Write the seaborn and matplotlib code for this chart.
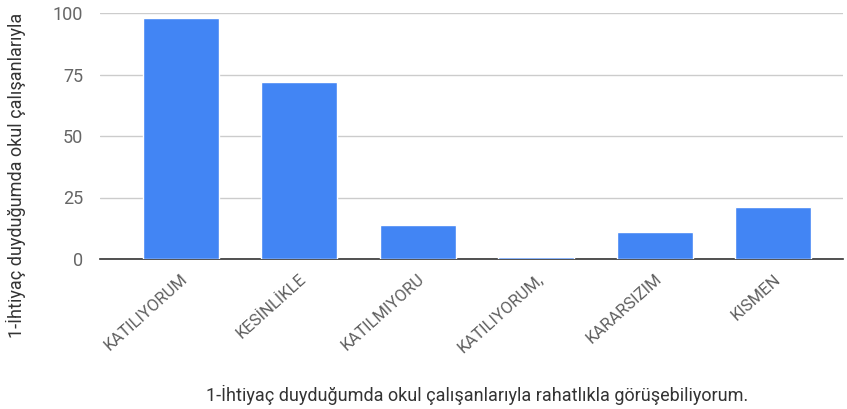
"""Bar chart of answers to survey item 1."""

import matplotlib

matplotlib.use("Agg")

import matplotlib.pyplot as plt
import pandas as pd
import seaborn as sns

CATEGORIES = ["KATILIYORUM", "KESİNLİKLE", "KATILMIYORU", "KATILIYORUM,", "KARARSIZIM", "KISMEN"]
COUNTS = [98, 72, 14, 1, 11, 21]
Y_TICKS = [0, 25, 50, 75, 100]

X_LABEL = "1-İhtiyaç duyduğumda okul çalışanlarıyla rahatlıkla görüşebiliyorum."
Y_LABEL = "1-İhtiyaç duyduğumda okul çalışanlarıyla"

BAR_COLOR = "#4285f4"
TEXT_COLOR = "#5f5f5f"


def main() -> None:
    sns.set_style("white")
    plt.rcParams["font.family"] = ["Roboto", "DejaVu Sans"]

    df = pd.DataFrame({"answer": CATEGORIES, "count": COUNTS})

    fig = plt.figure(figsize=(8.47, 4.09), dpi=100)
    ax = fig.add_axes([100 / 847, 1 - 259 / 409, 743 / 847, 246 / 409])

    sns.barplot(data=df, x="answer", y="count", color=BAR_COLOR, width=0.64,
                saturation=1, ax=ax, zorder=3)

    ax.set_ylim(0, 100)
    ax.set_xlim(-0.68, 5.59)
    ax.set_yticks(Y_TICKS)
    ax.yaxis.grid(True, color="#cccccc", linewidth=1, zorder=0)
    for side in ["top", "right", "left"]:
        ax.spines[side].set_visible(False)
    ax.spines["bottom"].set_color("#333333")
    ax.spines["bottom"].set_linewidth(1.2)
    ax.spines["bottom"].set_zorder(2)

    ax.tick_params(axis="y", length=0, pad=12, labelsize=13, labelcolor="#666666")
    ax.tick_params(axis="x", length=0, pad=9, labelsize=12, labelcolor=TEXT_COLOR)
    ax.set_xticks(range(len(CATEGORIES)))
    ax.set_xticklabels(CATEGORIES, rotation=42, ha="right", rotation_mode="anchor")

    ax.set_xlabel(X_LABEL, fontsize=13, color="#333333")
    ax.xaxis.set_label_coords(0.507, -0.51)
    ax.set_ylabel(Y_LABEL, fontsize=13, color="#333333")
    ax.yaxis.set_label_coords(-0.1, 0.34)

    fig.savefig("out.png", dpi=100)
    plt.close(fig)


if __name__ == "__main__":
    main()
